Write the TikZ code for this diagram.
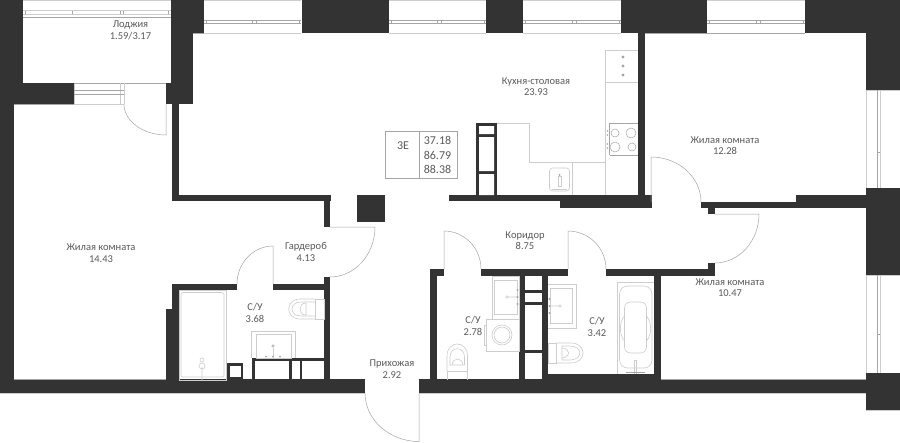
\documentclass[tikz,border=0pt]{standalone}
\usepackage{fontspec}
\setmainfont{Carlito}
\usetikzlibrary{calc}
\definecolor{wallcol}{RGB}{51, 51, 51}
\definecolor{linecol}{RGB}{205, 205, 205}
\definecolor{midcol}{RGB}{165, 165, 165}
\definecolor{textcol}{RGB}{90, 90, 90}
\tikzset{
    wallfill/.style = {fill=wallcol, draw=none},
    thinline/.style = {draw=linecol, line width=0.6pt},
    midline/.style = {draw=midcol, line width=0.5pt},
    doorline/.style = {draw=midcol, line width=0.5pt},
    roomtext/.style = {draw=none, fill=none, rectangle, inner sep=0pt, text=textcol, align=center,
      font=\fontsize{10.5}{11.8}\selectfont},
    infotext/.style = {draw=none, fill=none, rectangle, inner sep=0pt, text=textcol, align=center,
      font=\fontsize{12}{14.2}\selectfont}
}
\newcommand{\doorswing}[3]{\draw[doorline] (#1) -- (#2) .. controls ($(#2)+0.55*(#3)-0.55*(#1)$) and ($(#3)+0.55*(#2)-0.55*(#1)$) .. (#3);}
\begin{document}
\begin{tikzpicture}[x=1pt, y=-1pt]
\useasboundingbox[fill=white] (0,0) rectangle (900,442);

% windows
\foreach \xa/\xb in {204/301, 389/486, 523/621, 707/805} {
  \draw[thinline] (\xa,0.5) -- (\xb,0.5) (\xa,33) -- (\xb,33);
  \draw[midline] (\xa,20) -- (\xb,20) (\xa,23.5) -- (\xb,23.5);
  \draw[midline] (\xa+2,20) -- (\xa+2,23.5) (\xb-2,20) -- (\xb-2,23.5);
  \draw[midline] ({(\xa+\xb)/2},20) -- ({(\xa+\xb)/2},23.5) ({(\xa+\xb)/2+4},20) -- ({(\xa+\xb)/2+4},23.5);
}
\draw[thinline] (23,0.5) -- (171,0.5) (23,10.5) -- (171,10.5) (23,14) -- (171,14);
\draw[midline] (23,17) -- (171,17) (23,83) -- (171,83);
\foreach \tx in {25, 72, 120, 123, 168} { \draw[midline] (\tx,11) -- (\tx,14); }
\foreach \ya/\yb/\tk in {90/188/152, 275/373/334} {
  \draw[thinline] (866,\ya) -- (900,\ya) (866,\yb) -- (900,\yb) (866.3,\ya) -- (866.3,\yb) (880,\ya) -- (880,\yb);
  \draw[midline] (877,\ya) -- (877,\yb) (877,\tk) -- (880,\tk);
}

% loggia door frame
\draw[thinline] (74,83.5) -- (74,104) (74,104) -- (124,104) (120,83) -- (120,104) (124,83) -- (124,104);
\draw[midline] (74,90) -- (124,90) (74,94) -- (124,94);

% walls
\foreach \xa/\ya/\xb/\yb in {
  0/0/23/83, 0/83/74/104, 0/104/13.5/393, 0/379/365/393,
  171/0/204/33, 171/33/193/104, 166/83/193/104, 172/104/179/201, 172/195/331/201,
  324/195/330/227, 357/195/385/222, 302/0/389/33, 486/0/523/33, 621/0/707/33,
  805/0/900/33, 866/33/900/90, 866/188/900/275, 866/373/900/410,
  638/33/645/201, 449/195/645/201, 560/201/652/208, 638/195/652/208,
  701/202/866/208, 796/195/866/208, 708/208/715/214,
  606/269/715/276, 708/263/715/276, 654/276/661/380, 419/379/866/393, 548/374/654/380,
  430/269/437/380, 430/269/444/276, 481/269/568/276, 519/276/525/380, 542/276/548/380,
  525/290/542/293, 525/302/542/304.5, 525/350/542/353,
  324/277/330/380, 172/284/237/290, 273/284/330/290, 172/284/179/380, 166/309/179/380,
  252/358/324/361, 252/358/255/380, 289/358/291.5/380, 300/358/302/380
} {
  \fill[wallfill] (\xa,\ya) rectangle (\xb,\yb);
}
\fill[wallfill] (476,123) rectangle (497,195);
\fill[white] (479,126) rectangle (494,134) (479,137) rectangle (494,171) (479,174) rectangle (494,195);
\fill[wallfill] (227,363) rectangle (243,380);
\fill[white] (230,365.5) rectangle (241,377);

% wall edges
\draw[midline] (13.5,104) -- (74,104) (13.5,379) -- (166,379);
\draw[thinline] (0,393.5) -- (365,393.5) (419,393.5) -- (866,393.5) (866,410.5) -- (900,410.5);
\draw[midline] (661,379.5) -- (866,379.5) (645,33) -- (805,33) (193,33) -- (204,33);

% doors
\doorswing{166,104}{166,135}{124,104}
\doorswing{651,202}{651,157}{701,202}
\doorswing{715,214}{759,214}{715,263}
\doorswing{273,284}{273,246}{237,284}
\doorswing{330,227}{375,227}{330,277}
\doorswing{419,393}{419,441.5}{365,393}
\doorswing{444,269}{444,231}{481,269}
\doorswing{568,269}{568,231}{606,269}

% kitchen
\draw[thinline] (497,123) -- (529,123) -- (529,162) -- (605.5,162);
\draw[thinline] (572,162) -- (572,195);
\draw[thinline] (605.5,50) -- (605.5,195) (605.5,50) -- (638,50) (605.5,82) -- (638,82);
\draw[midline] (609.5,123) -- (638,123) (609.5,155) -- (638,155) (609.5,123) -- (609.5,155);
\foreach \hy in {57, 66, 75} { \fill[midcol] (623,\hy) circle[radius=1.6pt]; }
\draw[midline] (615,133) circle[radius=4pt] (631,133) circle[radius=5pt]
  (615,147) circle[radius=5pt] (632,147) circle[radius=4pt];
\foreach \hy in {131, 135, 144, 148} { \fill[midcol] (607.5,\hy) circle[radius=0.9pt]; }
\draw[thinline, rounded corners=3pt] (549.5,168) rectangle (569.5,191);
\draw[thinline] (558,176) rectangle (561,186) (552,189) -- (567,189);
\fill[midcol] (559.5,175) circle[radius=1pt];

% bathroom 3.68
\draw[thinline] (179,290) rectangle (226,380);
\draw[thinline, rounded corners=2pt] (181,292.5) rectangle (224,377);
\draw[thinline] (202,367) -- (202,380) (202,366) circle[radius=3pt] (202,360) circle[radius=2pt];
\draw[thinline] (251.5,358) -- (251.5,331) -- (295.5,331) -- (295.5,358);
\draw[thinline] (256,358) -- (256,334) -- (291,334) -- (291,358) -- cycle;
\draw[thinline] (273,348) -- (273,358);
\draw[midline] (273,346) circle[radius=1.3pt];
\foreach \sx in {266, 273, 280} { \fill[midcol] (\sx,356.5) circle[radius=1pt]; }
\draw[thinline] (315,299) rectangle (324,319);
\draw[thinline] (315,299) -- (300,299) .. controls (285,299) and (285,319) .. (300,319) -- (315,319);
\draw[thinline] (315,302) -- (301,302) .. controls (289,302) and (289,316) .. (301,316) -- (315,316);
\draw[thinline] (306,303) -- (306,315) .. controls (298,315) and (298,303) .. (306,303);

% bathroom 2.78
\draw[thinline] (492,276) rectangle (519,319);
\draw[thinline] (494.5,280) rectangle (517,314);
\draw[thinline] (508,297) -- (518,297) (507,297) circle[radius=1.2pt];
\foreach \sy in {290, 297, 304} { \fill[midcol] (517.5,\sy) circle[radius=1.1pt]; }
\draw[thinline] (486.5,319) rectangle (519,351);
\draw[thinline] (484.5,325) rectangle (486.5,345);
\draw[thinline] (502,335) circle[radius=10pt];
\draw[thinline] (502,335) circle[radius=8pt];
\draw[thinline] (447,380) -- (447,371) -- (467.5,371) -- (467.5,380);
\draw[thinline] (447,371) -- (447,356) .. controls (447,340) and (467.5,340) .. (467.5,356) -- (467.5,371);
\draw[thinline] (450,365) -- (450,357) .. controls (450,346) and (464.5,346) .. (464.5,357) -- (464.5,365) -- cycle;
\draw[thinline] (452,365) .. controls (453,357) and (462,357) .. (463,365);

% bathroom 3.42
\draw[thinline] (548,284) -- (576,284) -- (576,328) -- (548,328);
\draw[thinline] (550.5,288) rectangle (572.5,323);
\draw[thinline] (550,306) -- (559,306) (560,306) circle[radius=1.2pt];
\foreach \sy in {299, 306, 313} { \fill[midcol] (549.5,\sy) circle[radius=1.1pt]; }
\draw[thinline] (548,343) rectangle (556,363);
\draw[thinline] (556,343) -- (571,343) .. controls (587,343) and (587,363) .. (571,363) -- (556,363);
\draw[thinline] (562,346) -- (562,360) -- (570,360) .. controls (583,360) and (583,346) .. (570,346) -- cycle;
\draw[thinline] (562,348) .. controls (571,349) and (571,357) .. (562,358);

% bath 3.42
\draw[thinline] (654,282) -- (617,282) -- (617,374);
\draw[thinline, rounded corners=8pt] (619.5,286) rectangle (652,368);
\draw[thinline, rounded corners=6pt] (624.5,302) rectangle (646.5,353);
\draw[thinline] (624.5,316) .. controls (619,322) and (619,335) .. (624.5,341);
\draw[thinline] (646.5,316) .. controls (652,322) and (652,335) .. (646.5,341);
\draw[thinline] (634,374) -- (634,360) -- (636.5,360) -- (636.5,374);
\draw[midline] (626,372) -- (645,372);

% info table
\draw[midline, line width=0.7pt] (385.5,131.7) rectangle (457,178) (419.5,131.7) -- (419.5,178);
\node[infotext, name=flattype] at (403,146) {3Е};
\node[infotext, name=areas] at (437.5,155) {37.18\\86.79\\88.38};

% room labels
\node[roomtext, name=loggia] at (130.5,30.7) {Лоджия\\1.59/3.17};
\node[roomtext, name=kitchen] at (536,86.7) {Кухня-столовая\\23.93};
\node[roomtext, name=roomA] at (725,145.7) {Жилая комната\\12.28};
\node[roomtext, name=roomB] at (101,253) {Жилая комната\\14.43};
\node[roomtext, name=wardrobe] at (306,252) {Гардероб\\4.13};
\node[roomtext, name=bathA] at (255,312.7) {С/У\\3.68};
\node[roomtext, name=bathB] at (473,326) {С/У\\2.78};
\node[roomtext, name=bathC] at (597,326.5) {С/У\\3.42};
\node[roomtext, name=corridor] at (525,240.7) {Коридор\\8.75};
\node[roomtext, name=hall] at (392,369) {Прихожая\\2.92};
\node[roomtext, name=roomC] at (730,287.7) {Жилая комната\\10.47};
\end{tikzpicture}
\end{document}
